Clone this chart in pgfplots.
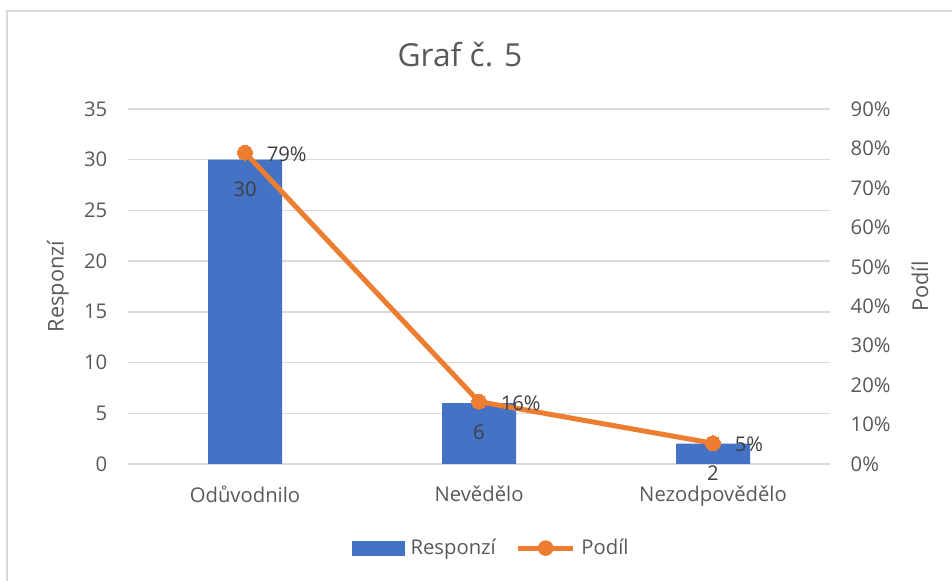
\documentclass[border=0pt]{standalone}
\usepackage{fontspec}
\setmainfont{Open Sans}
\usepackage{pgfplots}
\pgfplotsset{compat=1.18}
\definecolor{barblue}{HTML}{4472C4}
\definecolor{lineorange}{HTML}{ED7D31}
\definecolor{txt}{HTML}{595959}
\definecolor{lbl}{HTML}{404040}
\definecolor{grd}{HTML}{D9D9D9}
\newcommand{\tickfont}{\fontsize{15.2}{18}\selectfont}
\newcommand{\labelfont}{\fontsize{16.3}{19}\selectfont}

\pgfplotsset{
  common/.style={
    at={(96pt,87.75pt)}, anchor=south west,
    width=526.5pt, height=266.25pt, scale only axis,
    xmin=-0.5, xmax=2.5,
    axis line style={draw=none},
    major tick length=0pt,
    tick label style={font=\tickfont, color=txt},
    /pgf/number format/assume math mode=true,
  },
}

\begin{document}
\begin{tikzpicture}
\path[use as bounding box] (0,0) rectangle (714pt,435.75pt);
\draw[grd, line width=1pt] (5.25pt,0) -- (5.25pt,427.5pt) -- (714pt,427.5pt);
\node[font=\fontsize{23.8}{28}\selectfont, text=txt] at (345pt,394.5pt) {Graf č. 5};

% left axis: counts
\begin{axis}[
  common,
  ymin=0, ymax=35,
  ytick={0,5,10,15,20,25,30,35},
  ymajorgrids,
  grid style={grd, line width=1pt},
  xtick={0,1,2},
  xticklabels={Odůvodnilo,Nevědělo,Nezodpovědělo},
  xticklabel style={yshift=-13pt},
  yticklabel style={xshift=-12pt},
  ylabel={Responzí},
  every axis y label/.style={at={(axis description cs:0,0.5)}, xshift=-52.5pt, rotate=90, anchor=center, font=\labelfont, text=txt},
]
\addplot[ybar, bar width=55.5pt, fill=barblue, draw=none,
  nodes near coords,
  nodes near coords align={anchor=center},
  every node near coord/.append style={font=\tickfont, color=lbl, yshift=-22pt},
] coordinates {(0,30) (1,6) (2,2)};
\end{axis}

% right axis: share
\begin{axis}[
  common,
  ymin=0, ymax=0.9,
  ytick={0,0.1,0.2,0.3,0.4,0.5,0.6,0.7,0.8,0.9},
  yticklabels={0\%,10\%,20\%,30\%,40\%,50\%,60\%,70\%,80\%,90\%},
  axis y line*=right,
  hide x axis,
  yticklabel style={xshift=12pt},
  ylabel={Podíl},
  every axis y label/.style={at={(axis description cs:1,0.5)}, xshift=67.5pt, rotate=90, anchor=center, font=\labelfont, text=txt},
  legend style={at={(0.518,-0.237)}, anchor=center, draw=none, fill=none,
    font=\tickfont, text=txt, legend columns=2,
    /tikz/every odd column/.append style={column sep=2.5pt},
    /tikz/every even column/.append style={column sep=13pt}},
]
\addlegendimage{legend image code/.code={\fill[barblue] (0pt,-5.25pt) rectangle (39pt,5.25pt);}}
\addlegendentry{Responzí}
\addlegendimage{legend image code/.code={\draw[lineorange, line width=3.75pt] (0pt,0pt) -- (41pt,0pt); \fill[lineorange] (20.5pt,0pt) circle (5.6pt);}}
\addlegendentry{Podíl}
\addplot[forget plot, lineorange, line width=3.75pt, mark=*, mark size=5.6pt,
  mark options={fill=lineorange, draw=lineorange, line width=0pt},
  point meta=explicit symbolic,
  nodes near coords,
  nodes near coords align={anchor=west},
  every node near coord/.append style={font=\tickfont, color=lbl, xshift=13pt, yshift=-1pt},
] coordinates {(0,0.7895) [79\%] (1,0.1579) [16\%] (2,0.0526) [5\%]};
\end{axis}
\end{tikzpicture}
\end{document}
